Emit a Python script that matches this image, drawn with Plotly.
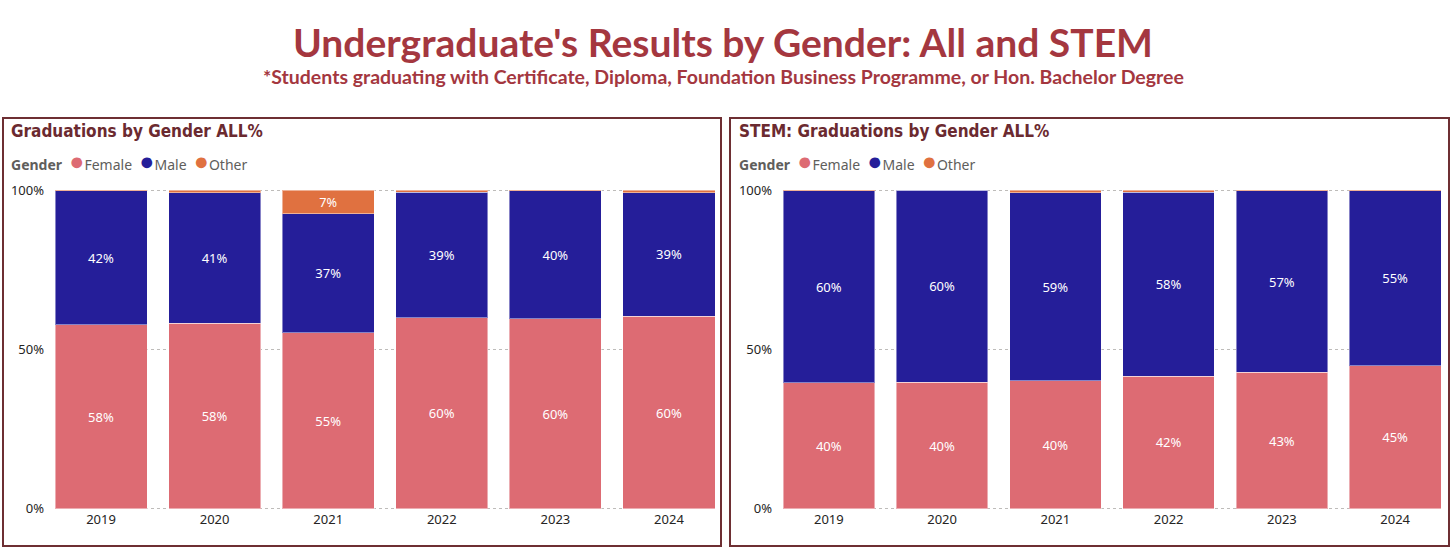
"""
Undergraduate results by gender
All programmes vs STEM, 100% stacked bars
"""

import plotly.graph_objects as go

years = ["2019", "2020", "2021", "2022", "2023", "2024"]

# share of graduates in %, all programmes
all_female = [57.8, 58.3, 55.2, 60.0, 59.7, 60.4]
all_male = [42.0, 40.9, 37.4, 39.4, 40.2, 38.9]
all_other = [0.2, 0.8, 7.4, 0.6, 0.1, 0.7]

# share of graduates in %, STEM programmes
stem_female = [39.6, 39.7, 40.2, 41.6, 42.8, 44.9]
stem_male = [60.3, 60.3, 59.1, 57.8, 57.1, 55.0]
stem_other = [0.1, 0.0, 0.7, 0.6, 0.1, 0.1]

genders = ["Female", "Male", "Other"]
colors = {"Female": "#DD6B73", "Male": "#251E99", "Other": "#E07140"}

W, H = 1456, 560


def px(x):
    # window pixel -> paper x
    return x / W


def py(y):
    # window pixel -> paper y
    return 1 - y / H


def labels(values):
    # tiny segments get no label, like the report does
    return [f"{round(v)}%" if v >= 3 else "" for v in values]


fig = go.Figure()

panels = [
    ("x", "y", [all_female, all_male, all_other]),
    ("x2", "y2", [stem_female, stem_male, stem_other]),
]

for xa, ya, series in panels:
    for name, vals in zip(genders, series):
        fig.add_trace(
            go.Bar(
                x=years,
                y=vals,
                name=name,
                xaxis=xa,
                yaxis=ya,
                marker=dict(color=colors[name],
                            line=dict(color="rgba(255,255,255,0.45)", width=1)),
                text=labels(vals),
                textposition="inside",
                insidetextanchor="middle",
                textangle=0,
                textfont=dict(family="Noto Sans", size=13, color="white"),
                showlegend=False,
                hovertemplate="%{x}: %{y:.1f}%<extra>" + name + "</extra>"
            )
        )

axis_font = dict(family="Noto Sans", size=13, color="#252423")

xcommon = dict(
    type="category",
    range=[-0.405, 5.405],
    showgrid=False,
    zeroline=False,
    showline=False,
    ticks="",
    tickfont=axis_font,
    automargin=False,
    fixedrange=True
)

# range padded a hair so the 0% and 100% dotted lines are still drawn
ycommon = dict(
    range=[-0.4, 100.4],
    tickvals=[0, 50, 100],
    ticktext=["0%", "50%", "100%"],
    showgrid=True,
    gridcolor="#BEBCBA",
    griddash="dot",
    gridwidth=1,
    zeroline=False,
    showline=False,
    ticks="",
    ticklabelstandoff=10,
    tickfont=axis_font,
    automargin=False,
    fixedrange=True
)

fig.update_layout(
    width=W,
    height=H,
    margin=dict(l=0, r=0, t=0, b=0, autoexpand=False),
    paper_bgcolor="white",
    plot_bgcolor="white",
    barmode="stack",
    bargap=0.19,
    showlegend=False,
    xaxis=dict(domain=[px(55), px(715)], anchor="y", **xcommon),
    yaxis=dict(domain=[py(510), py(189)], anchor="x", **ycommon),
    xaxis2=dict(domain=[px(783), px(1441)], anchor="y2", **xcommon),
    yaxis2=dict(domain=[py(510), py(189)], anchor="x2", **ycommon),
)

# panel frames
for x0, x1 in [(3, 721), (730, 1449)]:
    fig.add_shape(
        type="rect",
        xref="paper", yref="paper",
        x0=px(x0), x1=px(x1), y0=py(546), y1=py(118),
        line=dict(color="#6E2F33", width=2),
        fillcolor="rgba(0,0,0,0)",
        layer="above"
    )

title_color = "#A4373F"

fig.add_annotation(
    text="<b>Undergraduate's Results by Gender: All and STEM</b>",
    xref="paper", yref="paper", x=px(723), y=py(42),
    xanchor="center", yanchor="middle", showarrow=False,
    font=dict(family="Lato", size=39, color=title_color)
)
fig.add_annotation(
    text="<b>*Students graduating with Certificate, Diploma, Foundation Business Programme, or Hon. Bachelor Degree</b>",
    xref="paper", yref="paper", x=px(723), y=py(77),
    xanchor="center", yanchor="middle", showarrow=False,
    font=dict(family="Lato", size=19.5, color=title_color)
)

panel_titles = [("Graduations by Gender ALL%", 9), ("STEM: Graduations by Gender ALL%", 737)]
for text, x in panel_titles:
    fig.add_annotation(
        text="<b>" + text + "</b>",
        xref="paper", yref="paper", x=px(x), y=py(131),
        xanchor="left", yanchor="middle", showarrow=False,
        font=dict(family="DejaVu Sans Condensed", size=17, color="#6B2A30")
    )

# compact legend line: "Gender  ● Female  ● Male  ● Other"
legend_text = "<b>Gender</b>  "
for name in genders:
    legend_text += ("<span style='font-size:25px;color:" + colors[name] + "'>●</span>"
                    + name + "  ")
for x in [9, 737]:
    fig.add_annotation(
        text=legend_text.rstrip(),
        xref="paper", yref="paper", x=px(x), y=py(160),
        xanchor="left", yanchor="middle", showarrow=False,
        font=dict(family="Noto Sans", size=14, color="#605E5C")
    )

# the page body has a default 8px margin; drop it so the figure fills the window
fig.write_html(
    "out.html",
    config={"displayModeBar": False},
    post_script="document.body.style.margin = '0';"
)
